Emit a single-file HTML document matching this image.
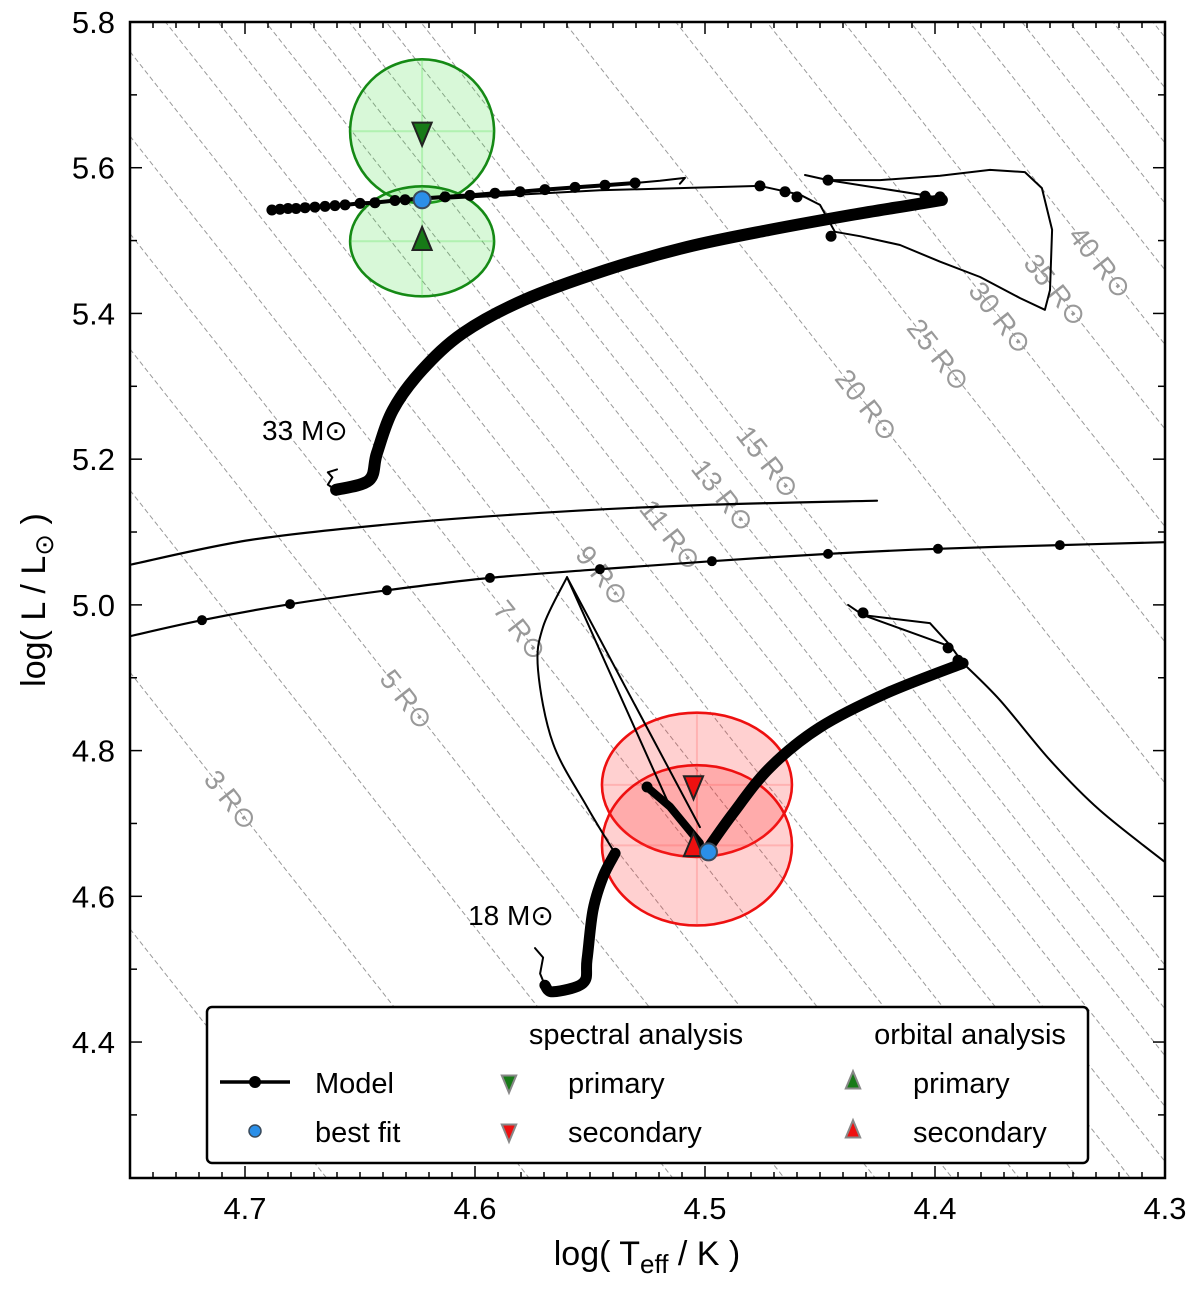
<!DOCTYPE html>
<html><head><meta charset="utf-8">
<style>
html,body{margin:0;padding:0;background:#fff;overflow:hidden;}
svg{display:block;font-family:"Liberation Sans","DejaVu Sans",sans-serif;}
</style></head>
<body>
<svg id="chart" width="1200" height="1293" viewBox="0 0 1200 1293"></svg>
<script>
// ---- data ----
const radiusValues = [1,2,3,4,5,6,7,8,9,10,11,12,13,14,15,20,25,30,35,40,45,50,55,60,65];
const radiusLabelR = [3,5,7,9,11,13,15,20,25,30,35,40];
const radiusLabelL = [4.732,4.87,4.965,5.04,5.096,5.15,5.196,5.274,5.343,5.394,5.432,5.47];
const xTicks = [4.7,4.6,4.5,4.4,4.3];
const yTicks = [4.4,4.6,4.8,5.0,5.2,5.4,5.6,5.8];

const track33Thick = [[4.6604,5.158],[4.6461,5.171],[4.6426,5.2085],[4.6357,5.2675],[4.6230,5.3224],[4.6052,5.3731],[4.5787,5.4184],[4.5430,5.4596],[4.5078,5.4912],[4.4722,5.5145],[4.4365,5.5351],[4.4100,5.5488],[4.3970,5.5557]];
const track33Hook = [[4.6604,5.158],[4.6640,5.165],[4.6620,5.175],[4.6640,5.182],[4.6600,5.186]];
const track33Dotted = [[4.6883,5.542],[4.6848,5.543],[4.6813,5.544],[4.6778,5.544],[4.6739,5.545],[4.6696,5.546],[4.6652,5.547],[4.6609,5.548],[4.6565,5.549],[4.6500,5.551],[4.6435,5.552],[4.6348,5.555],[4.6304,5.556],[4.6130,5.560],[4.6022,5.562],[4.5913,5.565],[4.5804,5.567],[4.5696,5.570],[4.5565,5.573],[4.5435,5.576],[4.5304,5.579]];
const track33DottedTail = [[4.5304,5.579],[4.5196,5.582],[4.5087,5.586],[4.5109,5.578]];
const track33Loop = [[4.6152,5.557],[4.5457,5.569],[4.4761,5.575],[4.4587,5.563],[4.4500,5.549],[4.4435,5.512],[4.4326,5.506],[4.4152,5.494],[4.3978,5.471],[4.3804,5.450],[4.3630,5.421],[4.3522,5.405],[4.3500,5.432],[4.3491,5.515],[4.3535,5.572],[4.3609,5.594],[4.3761,5.597],[4.3978,5.589],[4.4239,5.583],[4.4465,5.583],[4.4565,5.590]];
const track33Branch = [[4.4465,5.583],[4.4022,5.561],[4.3957,5.556]];
const track33LoopDots = [[4.4761,5.575],[4.4652,5.567],[4.4600,5.560],[4.4452,5.506],[4.4465,5.583],[4.4043,5.561],[4.3978,5.560]];

const lineUpper = [[4.75,5.055],[4.6978,5.089],[4.6326,5.112],[4.5674,5.127],[4.5022,5.137],[4.4252,5.143]];
const lineLower = [[4.75,4.957],[4.7187,4.979],[4.6804,5.001],[4.6383,5.020],[4.5935,5.037],[4.5457,5.049],[4.4970,5.060],[4.4465,5.070],[4.3987,5.077],[4.3457,5.082],[4.30,5.086]];
const lineLowerDots = [[4.7187,4.979],[4.6804,5.001],[4.6383,5.020],[4.5935,5.037],[4.5457,5.049],[4.4970,5.060],[4.4465,5.070],[4.3987,5.077],[4.3457,5.082]];

const track18Hook = [[4.5739,4.529],[4.5704,4.516],[4.5717,4.494],[4.5696,4.478]];
const track18Thick = [[4.5696,4.478],[4.5661,4.469],[4.5530,4.481],[4.5513,4.513],[4.5487,4.581],[4.5443,4.627],[4.5391,4.659]];
const track18Loop = [[4.5391,4.659],[4.5513,4.723],[4.5661,4.810],[4.5726,4.911],[4.5704,4.970],[4.5600,5.038],[4.5022,4.695]];
const track18Blob = [[4.5252,4.750],[4.5152,4.723],[4.5022,4.673]];
const track18Thick2 = [[4.4991,4.664],[4.4878,4.714],[4.4717,4.777],[4.4500,4.832],[4.4209,4.879],[4.3878,4.920]];
const track18Tail = [[4.3878,4.920],[4.3935,4.945],[4.4022,4.975],[4.4313,4.986],[4.4378,5.000]];
const track18Tail2 = [[4.4313,4.986],[4.3935,4.943]];
const track18Down = [[4.3878,4.920],[4.3717,4.869],[4.35,4.787],[4.3283,4.718],[4.30,4.647]];
const track18Dots = [[4.5252,4.750],[4.4313,4.989],[4.3943,4.941],[4.39,4.924]];

const ellipseT = [4.623,4.623,4.5035,4.5035];
const ellipseL = [5.650,5.499,4.753,4.670];
const ellipseDT = [0.0313,0.0313,0.0413,0.0413];
const ellipseDL = [0.0988,0.0755,0.099,0.110];
const ellipseKind = ['green','green','red','red'];

const markDownT = [4.623,4.505];
const markDownL = [5.650,4.753];
const markUpT = [4.623,4.505];
const markUpL = [5.499,4.667];
const bestT = [4.623,4.4985];
const bestL = [5.556,4.661];

// ---- axes ----
const X0=130,X1=1165,Y0=22,Y1=1178;
const tMax=4.75,tMin=4.30,lMax=5.8,lMin=5.8-(Y1-Y0)/728.6;
const sx=t=>X0+(tMax-t)/(tMax-tMin)*(X1-X0);
const sy=l=>Y0+(lMax-l)/(lMax-lMin)*(Y1-Y0);
const NS="http://www.w3.org/2000/svg";
const svg=document.getElementById('chart');
function mk(tag,attrs,parent){const e=document.createElementNS(NS,tag);for(const k in attrs)e.setAttribute(k,attrs[k]);(parent||svg).appendChild(e);return e;}
const defs=mk('defs',{});
const cp=mk('clipPath',{id:'clip'},defs);
mk('rect',{x:X0,y:Y0,width:X1-X0,height:Y1-Y0},cp);
const plot=mk('g',{'clip-path':'url(#clip)'});



// radius lines
const logTsun=3.7617;
const Lof=(R,T)=>2*Math.log10(R)+4*(T-logTsun);
radiusValues.forEach(R=>{
  const l=mk('line',{x1:sx(tMax),y1:sy(Lof(R,tMax)),x2:sx(tMin),y2:sy(Lof(R,tMin)),stroke:'#999','stroke-width':1,'stroke-dasharray':'5,3'},plot);
  
  
});
const ang=Math.atan2(sy(5.0)-sy(5.4),sx(4.5)-sx(4.6))*180/Math.PI;
radiusLabelR.forEach((R,i)=>{
  const L=radiusLabelL[i];
  const T=(L-2*Math.log10(R))/4+logTsun;
  const x=sx(T),y=sy(L);
  const t=mk('text',{x:x,y:y,transform:`rotate(${ang} ${x} ${y})`,'text-anchor':'middle','dominant-baseline':'central','font-size':28,fill:'#999'},plot);
  t.textContent=R+' R\u2299';
  
  
});

// ellipses
ellipseT.forEach((T,i)=>{
  const g=ellipseKind[i]==='green';
  const cx=sx(T),cy=sy(ellipseL[i]);
  const rx=sx(T-ellipseDT[i])-cx, ry=sy(ellipseL[i]-ellipseDL[i])-cy;
  const e=mk('ellipse',{cx:cx,cy:cy,rx:rx,ry:ry,fill:g?'rgba(60,220,60,0.2)':'rgba(255,40,40,0.22)',stroke:g?'#158a15':'#ee1010','stroke-width':2.6},plot);
  
  
  mk('line',{x1:cx-rx,y1:cy,x2:cx+rx,y2:cy,stroke:g?'rgba(60,220,60,0.25)':'rgba(255,60,60,0.2)','stroke-width':2},plot);
  mk('line',{x1:cx,y1:cy-ry,x2:cx,y2:cy+ry,stroke:g?'rgba(60,220,60,0.25)':'rgba(255,60,60,0.2)','stroke-width':2},plot);
});

function path(arr,w,name){
  const d=arr.map((p,i)=>(i?'L':'M')+sx(p[0]).toFixed(1)+','+sy(p[1]).toFixed(1)).join(' ');
  const e=mk('path',{d:d,fill:'none',stroke:'#000','stroke-width':w,'stroke-linejoin':'round','stroke-linecap':'round'},plot);
  
  
}
function spath(arr,w,name){
  // smooth curve through points (Catmull-Rom)
  const P=arr.map(p=>[sx(p[0]),sy(p[1])]);
  let d='M'+P[0][0].toFixed(1)+','+P[0][1].toFixed(1);
  for(let i=0;i<P.length-1;i++){
    const p0=P[Math.max(0,i-1)],p1=P[i],p2=P[i+1],p3=P[Math.min(P.length-1,i+2)];
    const c1=[p1[0]+(p2[0]-p0[0])/6,p1[1]+(p2[1]-p0[1])/6];
    const c2=[p2[0]-(p3[0]-p1[0])/6,p2[1]-(p3[1]-p1[1])/6];
    d+=` C${c1[0].toFixed(1)},${c1[1].toFixed(1)} ${c2[0].toFixed(1)},${c2[1].toFixed(1)} ${p2[0].toFixed(1)},${p2[1].toFixed(1)}`;
  }
  const e=mk('path',{d:d,fill:'none',stroke:'#000','stroke-width':w,'stroke-linejoin':'round','stroke-linecap':'round'},plot);
  
  
}
function dots(arr,r,name){
  arr.forEach(p=>{const c=mk('circle',{cx:sx(p[0]),cy:sy(p[1]),r:r,fill:'#000'},plot);
  
  });
}
spath(lineUpper,2.2,'track-line-upper');
spath(lineLower,2.2,'track-line-lower');
dots(lineLowerDots,5,'track-lower-dot');
path(track33Hook,2,'track-33-hook');
spath(track33Thick,12,'track-33-main');
path(track33Loop,2,'track-33-loop');
path(track33Branch,2,'track-33-branch');
path(track33Dotted,4,'track-33-dotted');
path(track33DottedTail,2,'track-33-tail');
dots(track33Dotted,5.5,'track-33-dot');
dots(track33LoopDots,5.5,'track-33-dot');
path(track18Hook,2,'track-18-hook');
spath(track18Thick,11,'track-18-main');
spath(track18Loop.slice(0,6),2,'track-18-loop');
path(track18Loop.slice(5),2,'track-18-loop-return');
path([track18Loop[5],track18Blob[1]],2,'track-18-loop2');
path(track18Blob,8,'track-18-blob');
spath(track18Thick2,11,'track-18-main2');
path(track18Tail,2,'track-18-tail');
path(track18Tail2,2,'track-18-tail2');
spath(track18Down,2,'track-18-down');
dots(track18Dots,5.5,'track-18-dot');

function tri(cx,cy,up,fill,stroke,s,parent,name){
  const h=s*0.9;
  const pts=up?`${cx},${cy-h} ${cx-s*0.6},${cy+h*0.6} ${cx+s*0.6},${cy+h*0.6}`:`${cx},${cy+h} ${cx-s*0.6},${cy-h*0.6} ${cx+s*0.6},${cy-h*0.6}`;
  const e=mk('polygon',{points:pts,fill:fill,stroke:stroke,'stroke-width':2},parent);
  
  
}
const mcol=['#177a17','#ee1010'];
markDownT.forEach((T,i)=>tri(sx(T),sy(markDownL[i]),false,mcol[i],'#222',16,plot,'spectral-marker-'+i));
markUpT.forEach((T,i)=>tri(sx(T),sy(markUpL[i]),true,mcol[i],'#222',16,plot,'orbital-marker-'+i));
bestT.forEach((T,i)=>{const c=mk('circle',{cx:sx(T),cy:sy(bestL[i]),r:8.5,fill:'#2b8fe8',stroke:'#3a4a5a','stroke-width':2},plot);
  
  });

// mass labels
[['33 M\u2299',4.6926,5.2263,'mass-label-33'],['18 M\u2299',4.603,4.5606,'mass-label-18']].forEach(a=>{
  const t=mk('text',{x:sx(a[1]),y:sy(a[2]),'text-anchor':'start','font-size':28,fill:'#000'},plot);
  t.textContent=a[0];
  
  
});

// legend
const lg=mk('g',{});


mk('rect',{x:207,y:1007,width:881,height:156,rx:5,fill:'#fff',stroke:'#000','stroke-width':2.5},lg);
function lt(x,y,s,name,anchor){const t=mk('text',{x:x,y:y,'font-size':29,fill:'#000','text-anchor':anchor||'start'},lg);t.textContent=s;
  
  }
lt(636,1044,'spectral analysis','legend-spectral-title','middle');
lt(970,1044,'orbital analysis','legend-orbital-title','middle');
mk('line',{x1:220,y1:1082,x2:290,y2:1082,stroke:'#000','stroke-width':3.5},lg);
mk('circle',{cx:255,cy:1082,r:6,fill:'#000'},lg);
lt(315,1093,'Model','legend-model');
mk('circle',{cx:255,cy:1131,r:6,fill:'#2b8fe8',stroke:'#3a4a5a','stroke-width':1.5},lg);
lt(315,1142,'best fit','legend-best-fit');
tri(509,1082,false,'#177a17','#888',12,lg,'legend-spectral-primary-marker');
lt(568,1093,'primary','legend-spectral-primary');
tri(509,1131,false,'#ee1010','#888',12,lg,'legend-spectral-secondary-marker');
lt(568,1142,'secondary','legend-spectral-secondary');
tri(853,1082,true,'#177a17','#888',12,lg,'legend-orbital-primary-marker');
lt(913,1093,'primary','legend-orbital-primary');
tri(853,1131,true,'#ee1010','#888',12,lg,'legend-orbital-secondary-marker');
lt(913,1142,'secondary','legend-orbital-secondary');

// frame + ticks
const ax=mk('g',{});


mk('rect',{x:X0,y:Y0,width:X1-X0,height:Y1-Y0,fill:'none',stroke:'#000','stroke-width':2.5},ax);
for(let k=0;k<=45;k++){
  const T=tMax-k*0.01, x=sx(T), major=(k%10===5);
  const len=major?12:6;
  mk('line',{x1:x,y1:Y1,x2:x,y2:Y1-len,stroke:'#000','stroke-width':1.5},ax);
  mk('line',{x1:x,y1:Y0,x2:x,y2:Y0+len,stroke:'#000','stroke-width':1.5},ax);
}
for(let k=0;k<=16;k++){
  const L=4.3+k*0.1; if(L<lMin||L>lMax+1e-6) continue;
  const y=sy(L), major=(k%2===1);
  const len=major?12:7;
  mk('line',{x1:X0,y1:y,x2:X0+len,y2:y,stroke:'#000','stroke-width':1.5},ax);
  mk('line',{x1:X1,y1:y,x2:X1-len,y2:y,stroke:'#000','stroke-width':1.5},ax);
}
xTicks.forEach(T=>{const t=mk('text',{x:sx(T),y:1219,'text-anchor':'middle','font-size':31,fill:'#000'},ax);t.textContent=T.toFixed(1);
  
  });
yTicks.forEach(L=>{const t=mk('text',{x:115,y:sy(L)+11,'text-anchor':'end','font-size':31,fill:'#000'},ax);t.textContent=L.toFixed(1);
  
  });
const xt=mk('text',{x:647,y:1265,'text-anchor':'middle','font-size':34,fill:'#000'},ax);
xt.innerHTML='log( T<tspan font-size="26" dy="8">eff</tspan><tspan dy="-8"> / K )</tspan>';


const yt=mk('text',{x:45,y:600,'text-anchor':'middle','font-size':34,fill:'#000',transform:'rotate(-90 45 600)'},ax);
yt.innerHTML='log( L / L<tspan font-size="26" dy="8">\u2299</tspan><tspan dy="-8"> )</tspan>';


</script>
</body></html>
